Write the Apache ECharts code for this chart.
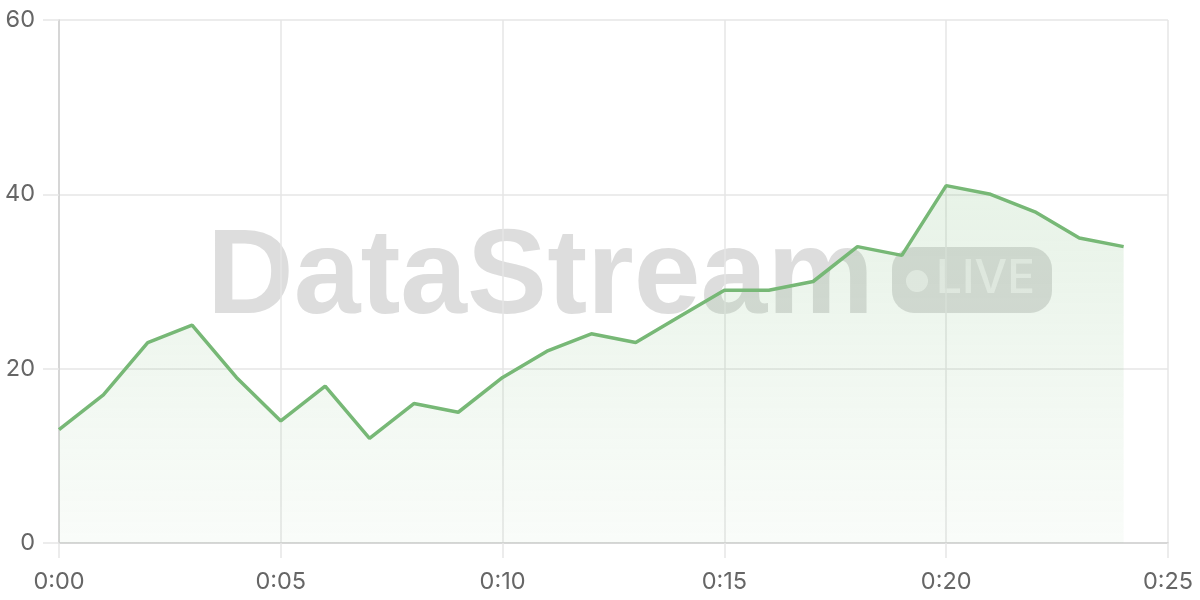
<!DOCTYPE html>
<html>
<head>
<meta charset="utf-8">
<script src="https://cdn.jsdelivr.net/npm/echarts@6/dist/echarts.min.js"></script>
<style>
html,body{margin:0;padding:0;background:#fff;}
#chart{width:1200px;height:600px;}
</style>
</head>
<body>
<div id="chart"></div>
<script>
// minutes since start
var minutes = [0,1,2,3,4,5,6,7,8,9,10,11,12,13,14,15,16,17,18,19,20,21,22,23,24];
var values  = [13,17,23,25,19,14,18,12,16,15,19,22,24,23,26,29,29,30,34,33,41,40,38,35,34];
var xTicks = [0,5,10,15,20,25];
var yTicks = [0,20,40,60];
var watermarkText = 'DataStream';
var badgeText = 'LIVE';

var seriesData = minutes.map(function(m,i){ return [m, values[i]]; });

var chart = echarts.init(document.getElementById('chart'), null, {renderer:'canvas'});
var labelFont = 'Inter, "Noto Sans", sans-serif';
var gridColor = '#e6e6e6';
chart.setOption({
  animation:false,
  grid:{left:59,right:32,top:20,bottom:57,containLabel:false},
  xAxis:{
    type:'value',
    min:xTicks[0], max:xTicks[xTicks.length-1], interval:5,
    axisLine:{show:true,lineStyle:{color:'#cfcfcf',width:1.5}},
    axisTick:{show:true,inside:false,length:15,lineStyle:{color:gridColor,width:1.5}},
    splitLine:{show:true,lineStyle:{color:gridColor,width:1.5}},
    axisLabel:{
      margin:27,
      color:'#666',fontSize:23.5,fontFamily:labelFont,
      formatter:function(v){ return '0:' + (v<10?'0':'') + v; }
    }
  },
  yAxis:{
    type:'value',
    min:yTicks[0], max:yTicks[yTicks.length-1], interval:20,
    axisLine:{show:true,lineStyle:{color:'#cfcfcf',width:1.5}},
    axisTick:{show:true,inside:false,length:16,lineStyle:{color:gridColor,width:1.5}},
    splitLine:{show:true,lineStyle:{color:gridColor,width:1.5}},
    axisLabel:{margin:24,color:'#666',fontSize:23.5,fontFamily:labelFont}
  },
  graphic:[
    {
      type:'text', left:207, top:220, z:-10, silent:true,
      style:{
        text:watermarkText,
        font:'bold 120px "Liberation Sans", Arial, sans-serif',
        fill:'rgba(120,120,120,0.25)'
      }
    },
    {
      type:'rect', shape:{x:892,y:247,width:160,height:66,r:22}, z:-10, silent:true,
      style:{fill:'rgba(120,120,120,0.25)'}
    },
    {
      type:'circle', shape:{cx:917,cy:281,r:11}, z:-9, silent:true,
      style:{fill:'rgba(255,255,255,0.55)'}
    },
    {
      type:'text', left:936, top:256, z:-9, silent:true,
      style:{
        text:badgeText,
        font:'500 46px Inter, "Noto Sans", sans-serif',
        fill:'rgba(255,255,255,0.55)'
      }
    }
  ],
  series:[{
    type:'line',
    data:seriesData,
    symbol:'none',
    lineStyle:{color:'#77b876',width:3.5},
    itemStyle:{color:'#77b876'},
    areaStyle:{
      color:new echarts.graphic.LinearGradient(0,0,0,1,[
        {offset:0,color:'rgba(119,184,118,0.25)'},
        {offset:1,color:'rgba(119,184,118,0.06)'}
      ])
    },
    z:2
  }]
});
</script>
</body>
</html>
